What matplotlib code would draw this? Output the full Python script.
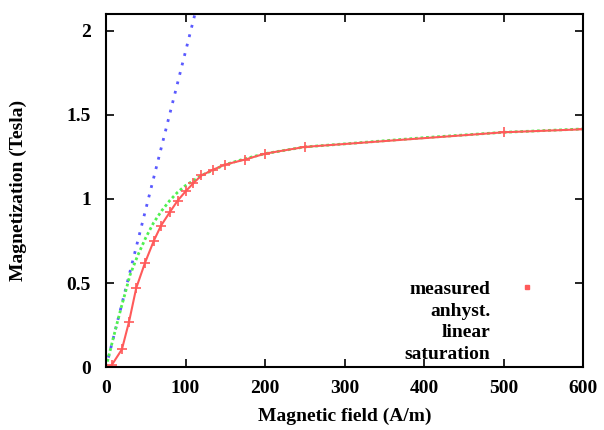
import numpy as np
import matplotlib.pyplot as plt
from matplotlib.lines import Line2D

plt.rcParams['font.family'] = ['Liberation Serif', 'DejaVu Serif']
plt.rcParams['font.weight'] = 'bold'
plt.rcParams['axes.labelweight'] = 'bold'

# measured B-H curve
meas_H = [0, 7, 20, 29, 38, 49, 60, 69, 80, 90, 100, 110, 120, 135, 150, 175, 200, 250, 500, 600]
meas_M = [0, 0.01, 0.105, 0.27, 0.47, 0.62, 0.75, 0.84, 0.92, 0.99, 1.045, 1.095, 1.14, 1.175,
          1.205, 1.235, 1.27, 1.31, 1.397, 1.415]

# anhysteretic curve
anh_H = [0, 5, 10, 15, 20, 25, 30, 40, 50, 60, 70, 80, 90, 100, 120, 150, 175, 200, 250, 300,
         400, 500, 600]
anh_M = [0, 0.094, 0.188, 0.28, 0.37, 0.455, 0.545, 0.665, 0.77, 0.86, 0.93, 0.99, 1.04, 1.08,
         1.14, 1.205, 1.24, 1.27, 1.31, 1.328, 1.365, 1.397, 1.417]

# initial linear slope
lin_H = [0, 115]
lin_M = [0, 2.16]

red = '#ff5a5a'
green = '#50f050'
blue = '#5a5aff'

fig = plt.figure(figsize=(6.04, 4.30), dpi=100)
ax = fig.add_axes([0.1755, 0.1465, 0.79, 0.8205])

ax.plot(lin_H, lin_M, color=blue, lw=2, linestyle=(0, (1, 2.5)))
ax.plot(anh_H, anh_M, color=green, lw=2, linestyle=(0, (1, 1)))
ax.plot(meas_H, meas_M, color=red, lw=1.5, marker='+', markersize=7, mew=1.2)

handles = [Line2D([], [], color=red, marker='s', markersize=2.5, linestyle='none'),
           Line2D([], [], linestyle='none'),
           Line2D([], [], linestyle='none'),
           Line2D([], [], linestyle='none')]
labels = ['measured', 'anhyst.', 'linear', 'saturation']
ax.legend(handles, labels, loc='lower right', bbox_to_anchor=(0.96, -0.037), frameon=False,
          markerfirst=False, fontsize=14, labelspacing=0.2, handletextpad=0.9, handlelength=2)

ax.set_xlim(0, 600)
ax.set_ylim(0, 2.1)
ax.set_xticks([0, 100, 200, 300, 400, 500, 600])
ax.set_yticks([0, 0.5, 1, 1.5, 2])
ax.set_yticklabels(['0', '0.5', '1', '1.5', '2'])
ax.tick_params(direction='in', top=True, right=True, length=6, width=1.2, labelsize=14)
ax.tick_params(axis='y', pad=11)
ax.tick_params(axis='x', pad=9)
for s in ax.spines.values():
    s.set_linewidth(1.5)

ax.set_xlabel('Magnetic field (A/m)', fontsize=14, labelpad=8)
ax.set_ylabel('Magnetization (Tesla)', fontsize=14, labelpad=28)

plt.savefig('out.png', dpi=100)
